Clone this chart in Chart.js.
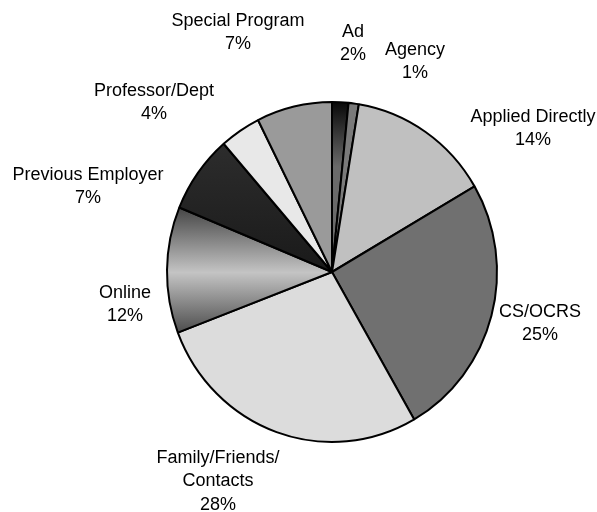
<!DOCTYPE html>
<html>
<head>
<meta charset="utf-8">
<script src="https://cdn.jsdelivr.net/npm/chart.js@4"></script>
<style>
  body { margin: 0; background: #fff; }
  canvas { display: block; }
</style>
</head>
<body>
<canvas id="myChart" width="597" height="512"></canvas>
<script>
// slices, clockwise from 12 o'clock (percent)
var categories = ['Ad', 'Agency', 'Applied Directly', 'CS/OCRS', ['Family/Friends/', 'Contacts'],
                  'Online', 'Previous Employer', 'Professor/Dept', 'Special Program'];
var shares = [1.6, 1.0, 14.0, 25.1, 27.5, 12.0, 7.4, 4.0, 7.4];

// where excel put the label text (centre of first line)
var labelPos = [[353, 32], [415, 50], [533, 117], [540, 312], [218, 458],
                [125, 293], [88, 175], [154, 91], [238, 21]];

var flatColors = [null, '#7a7a7a', '#c0c0c0', '#707070', '#dcdcdc', null, null, '#e8e8e8', '#9a9a9a'];

function sliceColor(c) {
  var chart = c.chart;
  var ctx = chart.ctx;
  var i = c.dataIndex;
  if (flatColors[i]) return flatColors[i];
  var g;
  if (i === 0) {
    g = ctx.createLinearGradient(0, 102, 0, 170);
    g.addColorStop(0, '#000000');
    g.addColorStop(1, '#6a6a6a');
  } else if (i === 5) {
    g = ctx.createLinearGradient(0, 205, 0, 340);
    g.addColorStop(0, '#3c3c3c');
    g.addColorStop(0.5, '#c4c4c4');
    g.addColorStop(1, '#3a3a3a');
  } else {
    g = ctx.createLinearGradient(0, 125, 0, 270);
    g.addColorStop(0, '#303030');
    g.addColorStop(1, '#1a1a1a');
  }
  return g;
}

// the original pie is a little taller than wide
var squash = {
  id: 'squash',
  beforeDatasetsDraw: function(chart) {
    var a = chart.getDatasetMeta(0).data[0];
    var ctx = chart.ctx;
    ctx.save();
    ctx.translate(a.x, a.y);
    ctx.scale(1, 170 / 165);
    ctx.translate(-a.x, -a.y);
  },
  afterDatasetsDraw: function(chart) {
    chart.ctx.restore();
  }
};

var outerLabels = {
  id: 'outerLabels',
  afterDraw: function(chart) {
    var ctx = chart.ctx;
    ctx.save();
    ctx.fillStyle = '#000';
    ctx.font = '18px "Liberation Sans", Arial, sans-serif';
    ctx.textAlign = 'center';
    ctx.textBaseline = 'middle';
    for (var i = 0; i < categories.length; i++) {
      var lines = [].concat(categories[i]);
      lines.push(Math.round(shares[i]) + '%');
      for (var j = 0; j < lines.length; j++) {
        ctx.fillText(lines[j], labelPos[i][0], labelPos[i][1] + j * 23.5);
      }
    }
    ctx.restore();
  }
};

var ctx = document.getElementById('myChart').getContext('2d');

var myPie = new Chart(ctx, {
  type: 'pie',
  data: {
    labels: categories,
    datasets: [{
      data: shares,
      backgroundColor: sliceColor,
      borderColor: '#000',
      borderWidth: 2,
      radius: 165
    }]
  },
  options: {
    responsive: false,
    animation: false,
    layout: { padding: { left: 167, right: 100, top: 107, bottom: 75 } },
    plugins: {
      legend: { display: false },
      tooltip: { enabled: false }
    }
  },
  plugins: [squash, outerLabels]
});
</script>
</body>
</html>
